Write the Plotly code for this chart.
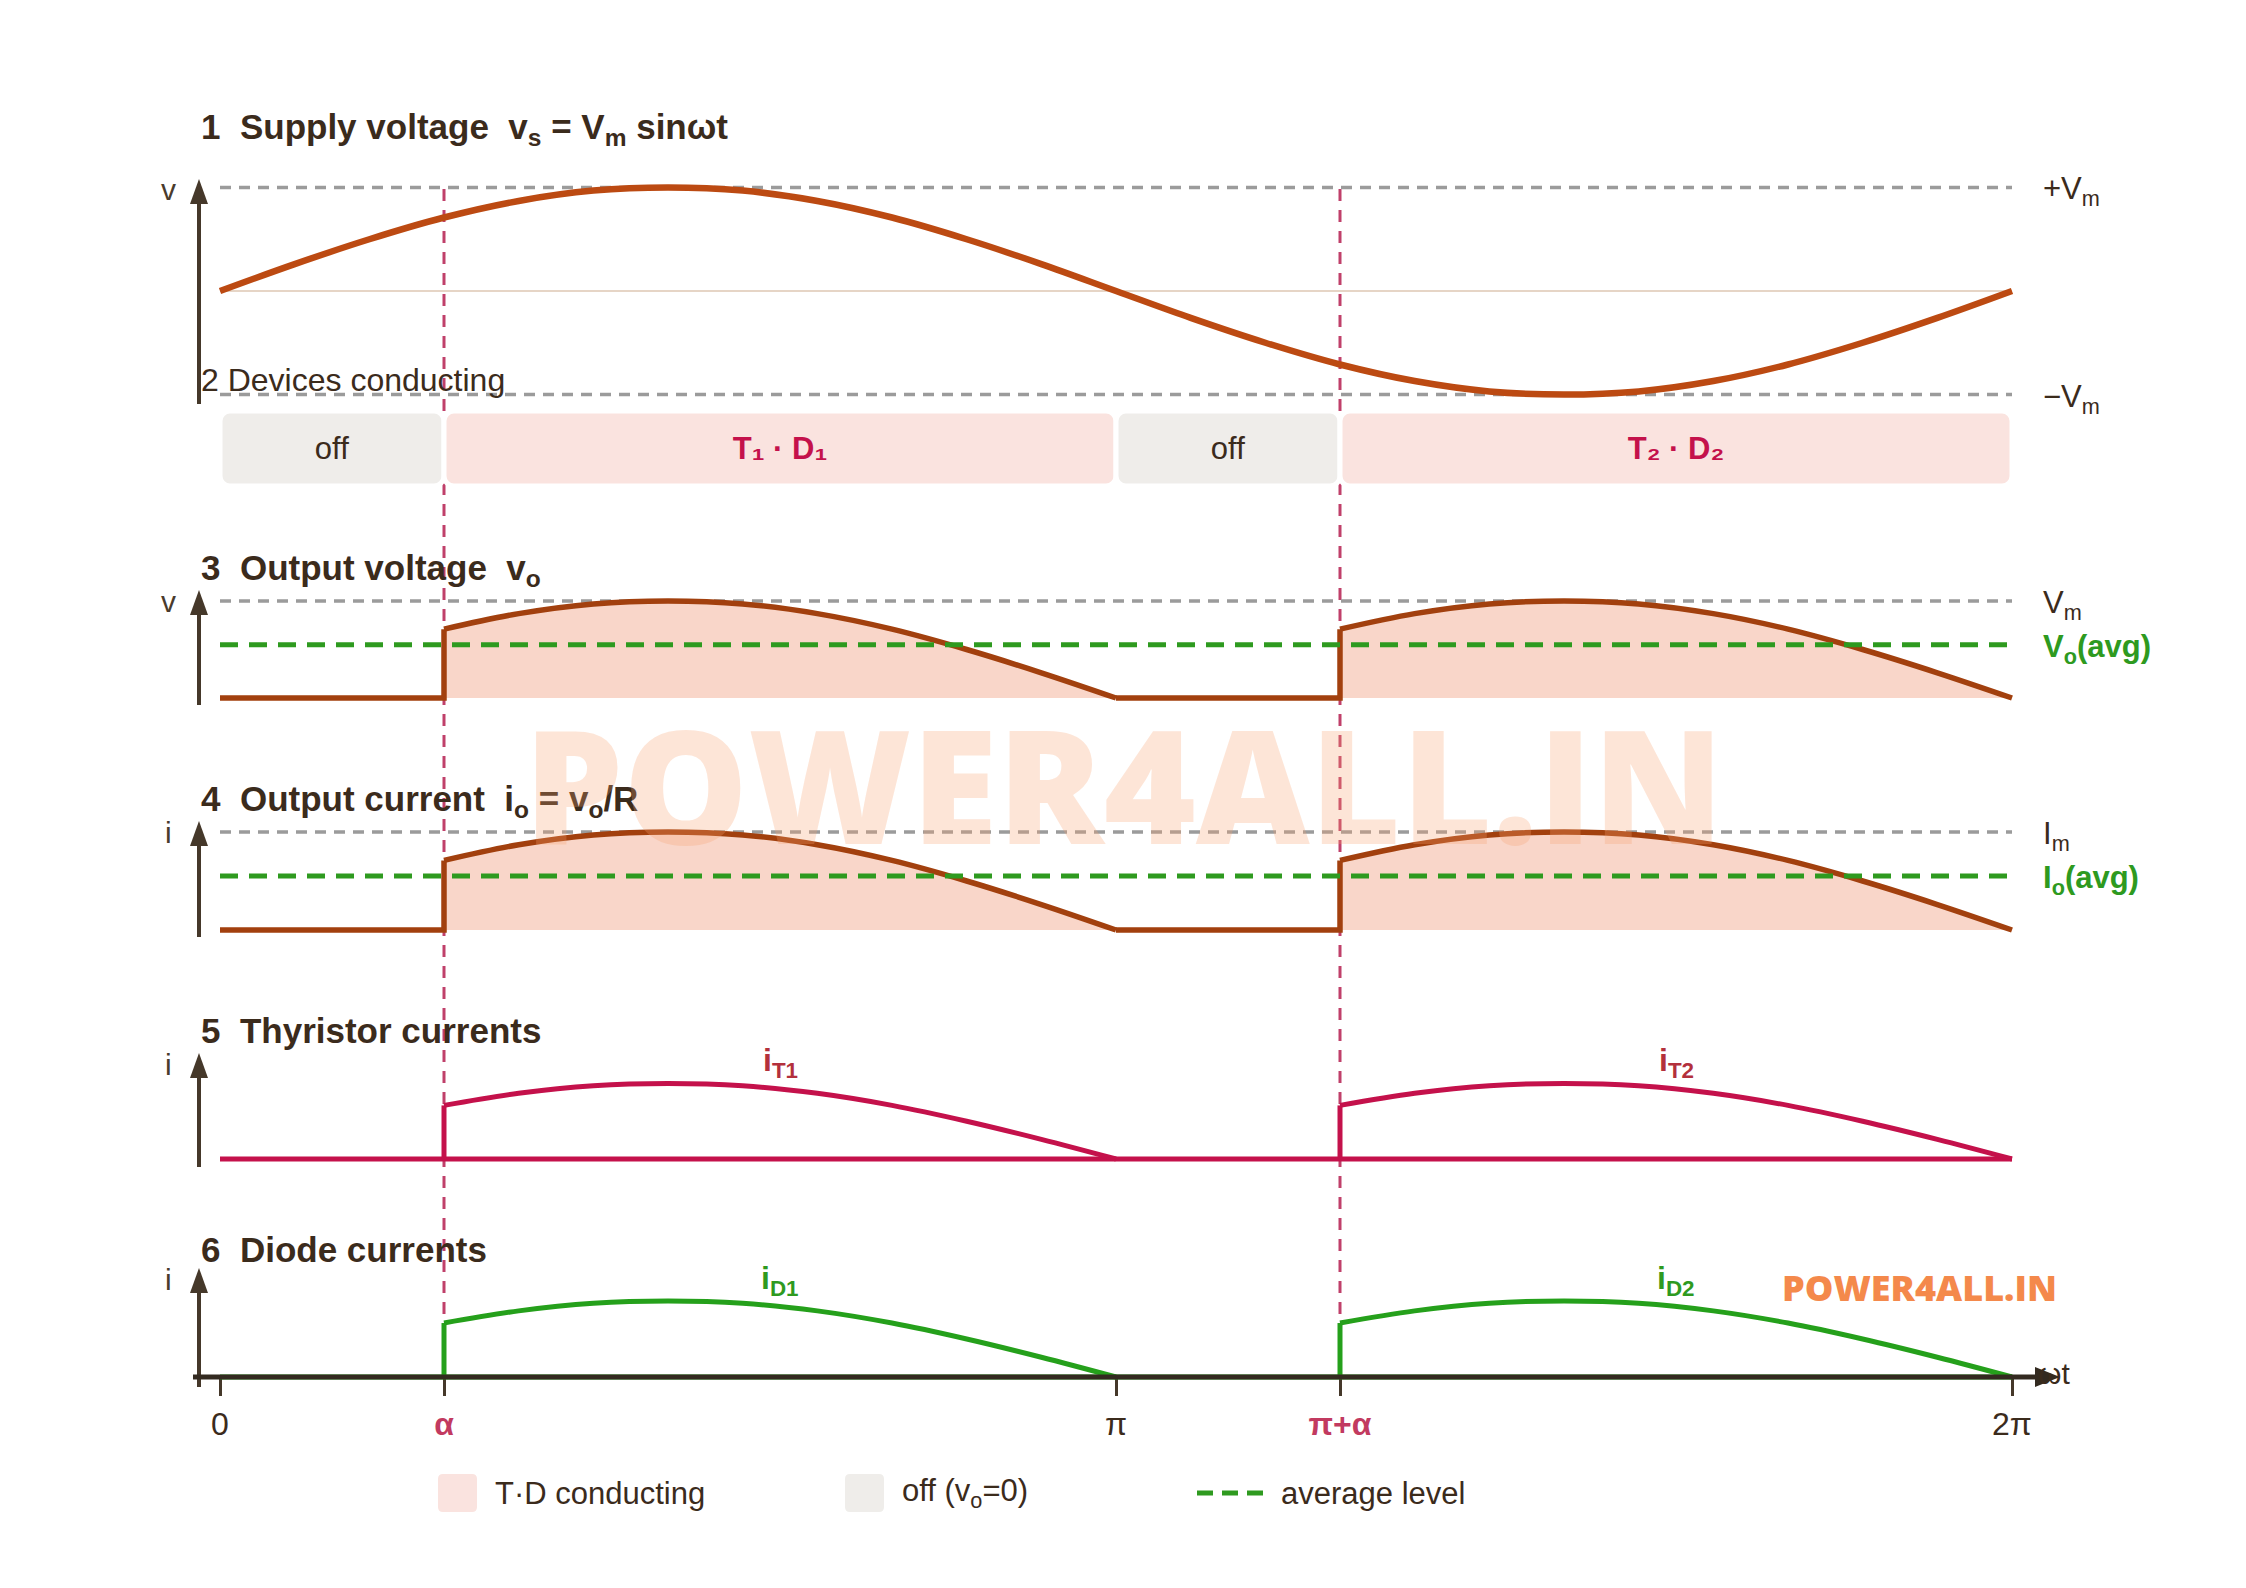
import plotly.graph_objects as go

W, H = 2246, 1588          # browser window
OFF = 8                    # default page margin of the html body
FW, FH = W - 2 * OFF, H - 2 * OFF

# ---------------- data ----------------
wt_deg = [0, 15, 30, 45, 60, 75, 90, 105, 120, 135, 150, 165, 180,
          195, 210, 225, 240, 255, 270, 285, 300, 315, 330, 345, 360]
vs_pu = [0.00, 0.26, 0.50, 0.71, 0.87, 0.97, 1.00, 0.97, 0.87, 0.71, 0.50, 0.26, 0.00,
         -0.26, -0.50, -0.71, -0.87, -0.97, -1.00, -0.97, -0.87, -0.71, -0.50, -0.26, 0.00]
seg_start = [0, 45, 180, 225]
seg_end = [45, 180, 225, 360]
seg_state = ["off", "on", "off", "on"]
seg_label = ["off", "T₁ · D₁", "off", "T₂ · D₂"]
thy_names = ["T1", "T2"]
dio_names = ["D1", "D2"]
vm_level = 1.0
vo_avg = 0.55
io_avg = 0.55
tick_vals = [0, 45, 180, 225, 360]
tick_text = ["0", "α", "π", "π+α", "2π"]
tick_highlight = [False, True, False, True, False]
legend_labels = ["T·D conducting", "off (v<sub>o</sub>=0)", "average level"]

# ---------------- styles ----------------
FONT = "Liberation Sans, Arial, sans-serif"
DARK = "#3B2B1C"
AXIS = "#45382A"
GRAY = "#9B9B9B"
RUST = "#BC4A12"
BROWN = "#A2400E"
FILL = "#F9D6C9"
CRIMSON = "#C4114B"
GREEN = "#25A01B"
AVG_GREEN = "#2E9A1F"
ALPHA_C = "#C0406A"
TD_PINK = "#FAE3DF"
OFF_GRAY = "#EFEDEA"
LABEL_RED = "#B3303C"
GRAY_DASH = "11px,8px"
GREEN_DASH = "18px,11px"


def PX(x):
    return (x - OFF) / FW


def PY(y):
    return 1 - (y - OFF) / FH


x0, x1 = wt_deg[0], wt_deg[-1]
on_iv = [(s, e) for s, e, st in zip(seg_start, seg_end, seg_state) if st == "on"]
off_iv = [(s, e) for s, e, st in zip(seg_start, seg_end, seg_state) if st == "off"]


def vs_at(w):
    return vs_pu[wt_deg.index(w)]


def cond_curve(s, e):
    xs = [w for w in wt_deg if s <= w <= e]
    return xs, [abs(vs_at(w)) for w in xs]


fig = go.Figure()


def add(x, y, yaxis, color, width, dash=None, shape="linear", fill=None, fillcolor=None):
    fig.add_trace(go.Scatter(x=x, y=y, xaxis="x", yaxis=yaxis, mode="lines",
                             line=dict(color=color, width=width, dash=dash, shape=shape),
                             fill=fill, fillcolor=fillcolor, hoverinfo="skip",
                             showlegend=False))


# Panel 1: supply voltage
add([x0, x1], [0, 0], "y", "#E6D5C6", 2)
add([x0, x1], [vm_level, vm_level], "y", GRAY, 3.5, GRAY_DASH)
add([x0, x1], [-vm_level, -vm_level], "y", GRAY, 3.5, GRAY_DASH)
add(wt_deg, vs_pu, "y", RUST, 6.5, shape="spline")

# Panel 2: devices conducting (bars)
fig.add_trace(go.Bar(
    x=[e - s for s, e in zip(seg_start, seg_end)], base=seg_start, y=[0] * len(seg_start),
    orientation="h", width=1, xaxis="x", yaxis="y2",
    marker=dict(color=[TD_PINK if st == "on" else OFF_GRAY for st in seg_state],
                cornerradius=10, line=dict(color="white", width=5)),
    text=[("<b>%s</b>" % l) if st == "on" else l for l, st in zip(seg_label, seg_state)],
    textposition="inside", insidetextanchor="middle", textangle=0, constraintext="none",
    textfont=dict(size=31, family=FONT,
                  color=[CRIMSON if st == "on" else DARK for st in seg_state]),
    hoverinfo="skip", showlegend=False))


def output_panel(yaxis, avg):
    add([x0, x1], [vm_level, vm_level], yaxis, GRAY, 3.5, GRAY_DASH)
    for s, e in on_iv:
        xs, ys = cond_curve(s, e)
        add(xs, ys, yaxis, BROWN, 5.5, shape="spline", fill="tozeroy", fillcolor=FILL)
    ox, oy = [], []
    for s, e in off_iv:
        ox += [s, e, e, None]
        oy += [0, 0, abs(vs_at(e)), None]
    add(ox, oy, yaxis, BROWN, 5.5)
    add([x0, x1], [avg, avg], yaxis, AVG_GREEN, 5, GREEN_DASH)


output_panel("y3", vo_avg)
output_panel("y4", io_avg)


def device_panel(yaxis, color):
    add([x0, x1], [0, 0], yaxis, color, 5)
    for s, e in on_iv:
        xs, ys = cond_curve(s, e)
        add([s, s], [0, ys[0]], yaxis, color, 5)
        add(xs, ys, yaxis, color, 5, shape="spline")


device_panel("y5", CRIMSON)
device_panel("y6", GREEN)

# ---------------- axes ----------------
kx = (2012 - 220) / (x1 - x0)
xrange = [x0 - (220 - OFF) / kx, x1 + (OFF + FW - 2012) / kx]


def yax(zero, unit, top, bot):
    return dict(domain=[PY(bot), PY(top)], range=[(zero - bot) / unit, (zero - top) / unit],
                visible=False, anchor="x", fixedrange=True)


ticktext = []
for t, hl in zip(tick_text, tick_highlight):
    ticktext.append('<span style="color:#C23A60"><b>%s</b></span>' % t if hl else t)

fig.update_layout(
    width=FW, height=FH, margin=dict(l=0, r=0, t=0, b=0),
    paper_bgcolor="white", plot_bgcolor="rgba(0,0,0,0)",
    font=dict(family=FONT, color=DARK),
    xaxis=dict(domain=[0, 1], range=xrange, anchor="free", position=PY(1377),
               showgrid=False, zeroline=False, showline=False,
               tickmode="array", tickvals=tick_vals, ticktext=ticktext,
               ticks="outside", ticklen=18, tickwidth=2.5, tickcolor=AXIS,
               tickfont=dict(size=32, color=DARK, family=FONT), ticklabelstandoff=1,
               fixedrange=True),
    yaxis=yax(291, 103.5, 160, 405),
    yaxis2=dict(domain=[PY(486), PY(411)], range=[-0.5, 0.5], visible=False,
                anchor="x", fixedrange=True),
    yaxis3=yax(698, 97, 580, 712),
    yaxis4=yax(930, 98, 812, 944),
    yaxis5=yax(1159, 75.5, 1040, 1172),
    yaxis6=yax(1377, 76, 1255, 1392),
    showlegend=False,
)

shapes = []
# alpha dashed lines
for s, e in on_iv:
    shapes.append(dict(type="line", xref="x", yref="paper", x0=s, x1=s,
                       y0=PY(1377), y1=PY(183),
                       line=dict(color=ALPHA_C, width=3, dash="12px,9px"), layer="below"))


def tri(p1, p2, p3, color):
    path = "M%f,%f L%f,%f L%f,%f Z" % (PX(p1[0]), PY(p1[1]), PX(p2[0]), PY(p2[1]),
                                        PX(p3[0]), PY(p3[1]))
    return dict(type="path", xref="paper", yref="paper", path=path,
                fillcolor=color, line=dict(width=0), layer="above")


# y-axis arrows
AX_X = 199
arrows = [(179, 404), (590, 705), (821, 937), (1053, 1167), (1268, 1387)]
for tip, bot in arrows:
    shapes.append(dict(type="line", xref="paper", yref="paper", x0=PX(AX_X), x1=PX(AX_X),
                       y0=PY(bot), y1=PY(tip + 18), line=dict(color=AXIS, width=4),
                       layer="above"))
    shapes.append(tri((AX_X, tip), (AX_X - 9, tip + 25), (AX_X + 9, tip + 25), AXIS))

# x axis arrow
shapes.append(dict(type="line", xref="paper", yref="paper", x0=PX(193), x1=PX(2038),
                   y0=PY(1377), y1=PY(1377), line=dict(color="#332A20", width=5),
                   layer="above"))
shapes.append(tri((2060, 1377), (2035, 1367), (2035, 1387), "#332A20"))


def rrect(xa, ya, xb, yb, r, color):
    pts = [("M", xa + r, ya), ("L", xb - r, ya), ("Q", xb, ya, xb, ya + r),
           ("L", xb, yb - r), ("Q", xb, yb, xb - r, yb), ("L", xa + r, yb),
           ("Q", xa, yb, xa, yb - r), ("L", xa, ya + r), ("Q", xa, ya, xa + r, ya)]
    path = ""
    for p in pts:
        c = p[0]
        coords = p[1:]
        segs = []
        for i in range(0, len(coords), 2):
            segs.append("%f,%f" % (PX(coords[i]), PY(coords[i + 1])))
        path += c + " ".join(segs) + " "
    path += "Z"
    return dict(type="path", xref="paper", yref="paper", path=path,
                fillcolor=color, line=dict(width=0), layer="above")


# legend
LEG_Y = 1493
shapes.append(rrect(438, 1474, 477, 1512, 5, TD_PINK))
shapes.append(rrect(845, 1474, 884, 1512, 5, OFF_GRAY))
shapes.append(dict(type="line", xref="paper", yref="paper", x0=PX(1197), x1=PX(1265),
                   y0=PY(LEG_Y), y1=PY(LEG_Y),
                   line=dict(color=AVG_GREEN, width=5, dash="16px,9px"), layer="above"))
fig.update_layout(shapes=shapes)

ann = []


def A(text, x, y, size=30, color=DARK, xanchor="left", yanchor="middle", xref="paper",
      yref="paper", xshift=0, yshift=0, family=FONT, weight=None):
    f = dict(size=size, color=color, family=family)
    if weight:
        f["weight"] = weight
    ann.append(dict(text=text, x=x, y=y, xref=xref, yref=yref, showarrow=False,
                    xanchor=xanchor, yanchor=yanchor, xshift=xshift, yshift=yshift, font=f))


NB = "\u00a0"
titles = [
    ("<b>1%sSupply voltage%sv<sub>s</sub> = V<sub>m</sub> sinωt</b>" % (NB * 2, NB * 2), 129),
    ("2 Devices conducting", 380),
    ("<b>3%sOutput voltage%sv<sub>o</sub></b>" % (NB * 2, NB * 2), 570),
    ("<b>4%sOutput current%si<sub>o</sub> = v<sub>o</sub>/R</b>" % (NB * 2, NB * 2), 801),
    ("<b>5%sThyristor currents</b>" % (NB * 2), 1031),
    ("<b>6%sDiode currents</b>" % (NB * 2), 1249),
]
for i, (t, y) in enumerate(titles):
    A(t, PX(199), PY(y), size=32 if i == 1 else 35)

for lab, (tip, bot) in zip(["v", "v", "i", "i", "i"], arrows):
    A(lab, PX(168), PY(tip + 11), size=30, color="#4A3B2C", xanchor="center")

# right-hand level labels
A("+V<sub>m</sub>", x1, vm_level, size=31, xref="x", yref="y", xshift=29, yshift=-4)
A("−V<sub>m</sub>", x1, -vm_level, size=31, xref="x", yref="y", xshift=29, yshift=-4)
A("V<sub>m</sub>", x1, vm_level, size=31, xref="x", yref="y3", xshift=29, yshift=-4)
A("<b>V<sub>o</sub>(avg)</b>", x1, vo_avg, size=31, color=AVG_GREEN, xref="x", yref="y3",
  xshift=29, yshift=-4)
A("I<sub>m</sub>", x1, vm_level, size=31, xref="x", yref="y4", xshift=29, yshift=-4)
A("<b>I<sub>o</sub>(avg)</b>", x1, io_avg, size=31, color=AVG_GREEN, xref="x", yref="y4",
  xshift=29, yshift=-4)

# device current labels
for (s, e), n in zip(on_iv, thy_names):
    xs, ys = cond_curve(s, e)
    A("<b>i<sub>%s</sub></b>" % n, (s + e) / 2, max(ys), size=32, color=LABEL_RED,
      xanchor="center", xref="x", yref="y5", yshift=21)
for (s, e), n in zip(on_iv, dio_names):
    xs, ys = cond_curve(s, e)
    A("<b>i<sub>%s</sub></b>" % n, (s + e) / 2, max(ys), size=32, color=AVG_GREEN,
      xanchor="center", xref="x", yref="y6", yshift=21)

# omega t label
A("ωt", PX(2036), PY(1373), size=30, color=DARK)

# legend texts
A(legend_labels[0], PX(493), PY(LEG_Y), size=31)
A(legend_labels[1], PX(900), PY(LEG_Y), size=31)
A(legend_labels[2], PX(1279), PY(LEG_Y), size=31)

# watermarks
A("POWER4ALL.IN", PX(1919), PY(1287), size=36, color="#F4894B", xanchor="center",
  family="Open Sans, Lato, sans-serif", weight=800)
A("POWER4ALL.IN", PX(1124), PY(783), size=157, color="rgba(248,160,112,0.28)",
  xanchor="center", family="Open Sans, Lato, sans-serif", weight=800)

fig.update_layout(annotations=ann)
fig.write_html("out.html")
